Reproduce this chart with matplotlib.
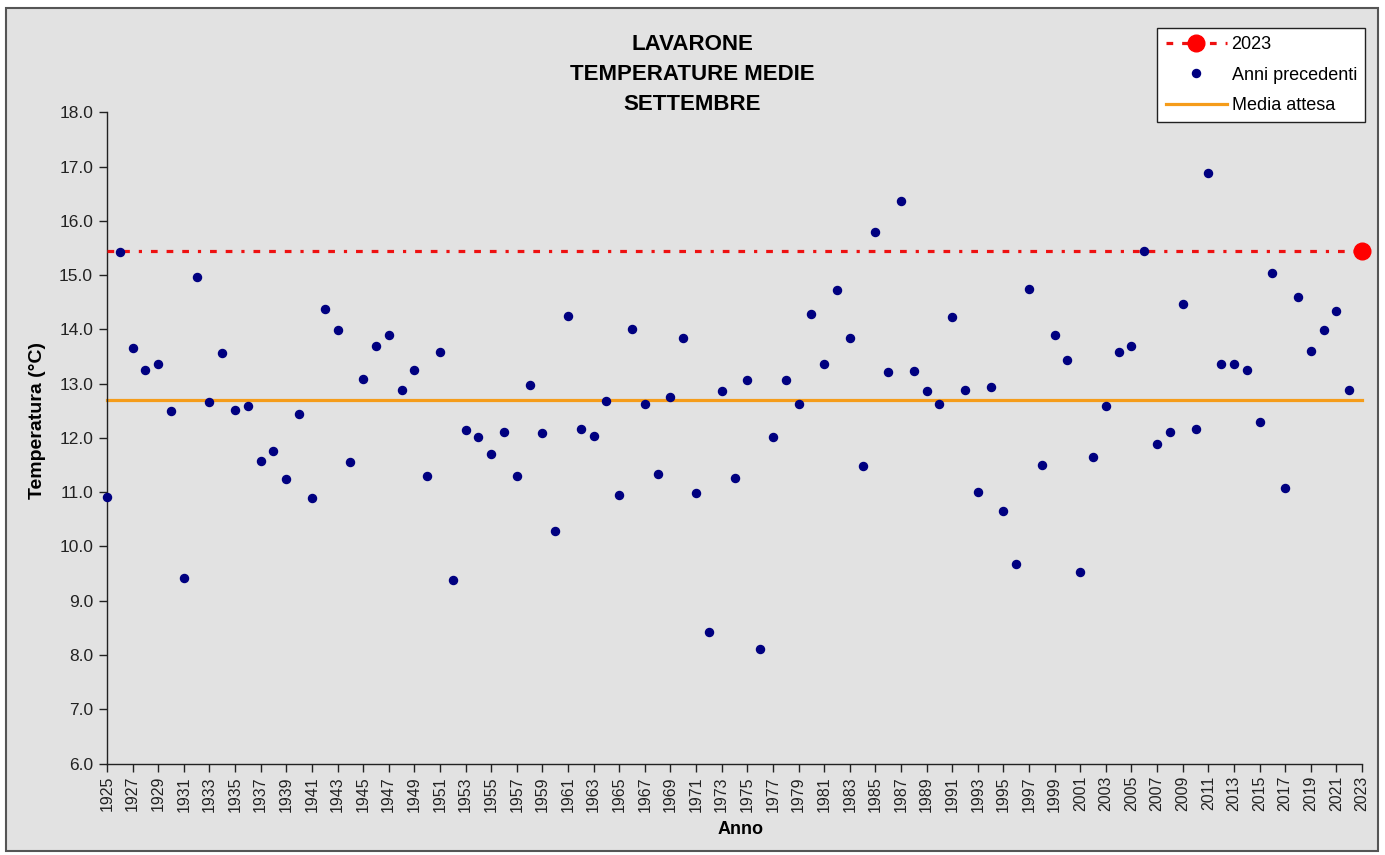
import matplotlib
matplotlib.use("Agg")
import matplotlib.pyplot as plt
from matplotlib.patches import Rectangle
from matplotlib.lines import Line2D

plt.rcParams['font.family'] = ['Liberation Sans', 'DejaVu Sans']

# ---------------- data ----------------
years = list(range(1925, 2023))
temps = [10.91, 15.43, 13.65, 13.26, 13.36, 12.49, 9.42, 14.97, 12.67, 13.57,
         12.51, 12.59, 11.58, 11.76, 11.24, 12.44, 10.89, 14.37, 13.98, 11.56,
         13.08, 13.69, 13.89, 12.88, 13.26, 11.29, 13.58, 9.39, 12.15, 12.01,
         11.71, 12.11, 11.30, 12.98, 12.09, 10.28, 14.24, 12.17, 12.03, 12.68,
         10.94, 14.00, 12.63, 11.34, 12.76, 13.85, 10.99, 8.43, 12.86, 11.26,
         13.06, 8.11, 12.01, 13.07, 12.62, 14.28, 13.36, 14.72, 13.85, 11.49,
         15.80, 13.22, 16.37, 13.24, 12.86, 12.62, 14.22, 12.88, 11.01, 12.94,
         10.65, 9.67, 14.74, 11.50, 13.89, 13.43, 9.53, 11.65, 12.59, 13.59,
         13.69, 15.45, 11.88, 12.11, 14.46, 12.16, 16.88, 13.36, 13.36, 13.26,
         12.29, 15.03, 11.07, 14.60, 13.61, 13.98, 14.34, 12.88]
year_current = 2023
temp_current = 15.45
media_attesa = 12.70
title_lines = ["LAVARONE", "TEMPERATURE MEDIE", "SETTEMBRE"]
xtick_years = list(range(1925, 2024, 2))
yticks = [6.0, 7.0, 8.0, 9.0, 10.0, 11.0, 12.0, 13.0, 14.0, 15.0, 16.0, 17.0, 18.0]

# ---------------- figure ----------------
W, H = 1385, 855
fig = plt.figure(figsize=(W / 100, H / 100), dpi=100)
fig.patch.set_facecolor('white')
bg = '#e2e2e2'
# chart area with frame
frame = Rectangle((6 / W, 1 - 851 / H), (1378 - 6) / W, (851 - 8) / H,
                  transform=fig.transFigure, facecolor=bg,
                  edgecolor='#555555', linewidth=1.5, zorder=-10)
fig.patches.append(frame)

ax = fig.add_axes([107 / W, 1 - 763.5 / H, (1362 - 107) / W, (763.5 - 112.3) / H])
ax.set_zorder(2)
ax.set_facecolor('none')
ax.set_xlim(1925, 2023)
ax.set_ylim(6, 18)

red_dash = (0, (2.1, 2.8, 2.1, 2.8, 1.0, 2.8, 2.1, 2.8, 2.1, 2.8, 2.1, 2.8, 1.0, 2.8))
all_years = years + [year_current]
ax.plot(all_years, [temp_current] * len(all_years), color='#ee1111', lw=2.3,
        linestyle=red_dash, zorder=3, clip_on=False)
ax.plot([year_current], [temp_current], 'o', color='#ff0000', markersize=12,
        zorder=5, clip_on=False)
ax.plot(all_years, [media_attesa] * len(all_years), color='#f59c1a', lw=2.3,
        zorder=2, clip_on=False)
ax.plot(years, temps, 'o', color='#000080', markersize=5.8, zorder=4, clip_on=False)

for s in ['top', 'right']:
    ax.spines[s].set_visible(False)
for s in ['left', 'bottom']:
    ax.spines[s].set_color('#222222')
    ax.spines[s].set_linewidth(1.0)

ax.set_xticks(xtick_years)
ax.set_xticklabels([str(y) for y in xtick_years], rotation=90, fontsize=11.5,
                   color='#222222')
ax.set_yticks(yticks)
ax.set_yticklabels([f"{v:.1f}" for v in yticks], fontsize=12.5, color='#222222')
ax.tick_params(axis='both', direction='out', length=6, width=1.0, color='#222222')
ax.tick_params(axis='x', pad=3)
ax.tick_params(axis='y', pad=4)

# titles & labels
for txt, yy in zip(title_lines, [45, 75, 104]):
    fig.text(692 / W, 1 - yy / H, txt, ha='center', va='center',
             fontsize=16, fontweight='bold', color='black')
fig.text(38 / W, 1 - 420 / H, "Temperatura (°C)", rotation=90, ha='center',
         va='center', fontsize=14, fontweight='bold', color='black')
fig.text(741 / W, 1 - 829 / H, "Anno", ha='center', va='center',
         fontsize=13, fontweight='bold', color='black')

# legend
h1 = Line2D([], [], color='#ee1111', lw=2.3,
            linestyle=(0, (2.1, 2.8, 2.1, 2.8, 1.0, 2.8)),
            marker='o', markersize=12, markerfacecolor='#ff0000',
            markeredgecolor='#ff0000')
h2 = Line2D([], [], color='#000080', lw=0, marker='o', markersize=5.8)
h3 = Line2D([], [], color='#f59c1a', lw=2.3)
leg = fig.legend([h1, h2, h3], ["2023", "Anni precedenti", "Media attesa"],
                 loc='upper right', bbox_to_anchor=(1365 / W, 1 - 28 / H),
                 bbox_transform=fig.transFigure, fontsize=13,
                 frameon=True, fancybox=False, framealpha=1,
                 edgecolor='#222222', handlelength=3.4, handletextpad=0.25,
                 labelspacing=0.75, borderpad=0.45, borderaxespad=0)
leg.get_frame().set_linewidth(1.0)
leg.set_zorder(10)

fig.savefig("out.png", dpi=100, facecolor=fig.get_facecolor())
